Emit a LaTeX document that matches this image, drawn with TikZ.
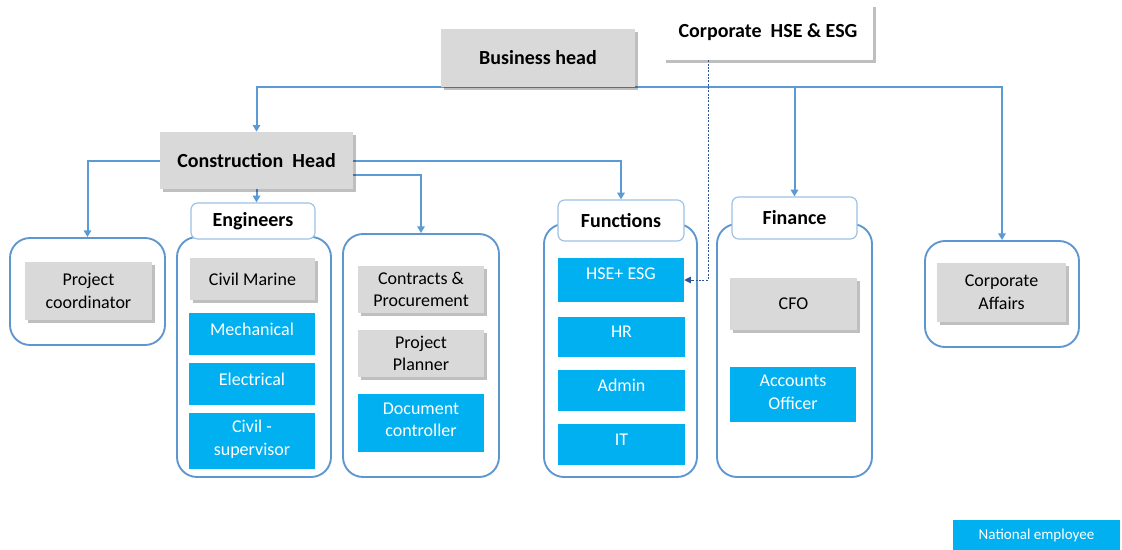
\documentclass[tikz,border=0pt]{standalone}
\usepackage{fontspec}
\setmainfont{Carlito}
\usetikzlibrary{shadows,arrows.meta,calc,backgrounds}
\definecolor{conn}{HTML}{5B9BD5}
\definecolor{contb}{HTML}{5E96D0}
\definecolor{labb}{HTML}{9DC3E6}
\definecolor{natblue}{HTML}{00B0F0}
\definecolor{gfill}{HTML}{D9D9D9}
\definecolor{dashc}{HTML}{2F5597}
\newcommand\mybold{\fontsize{15}{18}\selectfont\bfseries}
\newcommand\myreg{\fontsize{13.5}{17}\selectfont}
\newcommand\mysmall{\fontsize{11.3}{13}\selectfont}
\tikzset{
  rc/.style args={#1/#2/#3/#4}{at={({(#1+#3)/2},{(#2+#4)/2})},
    minimum width={(#3-#1)*0.75pt}, minimum height={(#4-#2)*0.75pt}},
  box/.style={inner sep=0pt, align=center, anchor=center},
  graybox/.style={box, fill=gfill, font=\myreg,
    drop shadow={shadow xshift=2pt, shadow yshift=-2pt, fill=black, opacity=0.25}},
  gbold/.style={graybox, font=\mybold},
  whitebold/.style={box, fill=white, font=\mybold,
    drop shadow={shadow xshift=2pt, shadow yshift=-2pt, fill=black, opacity=0.25}},
  bluebox/.style={box, fill=natblue, text=white, font=\myreg, text depth=7.5pt},
  cont/.style={box, draw=contb, line width=1.4pt, rounded corners=15pt, fill=white},
  lab/.style={box, draw=labb, line width=0.9pt, rounded corners=5pt, fill=white, font=\mybold},
  arr/.style={draw=conn, line width=1.5pt, -{Triangle[width=5.5pt,length=5pt]}},
  dashconn/.style={draw=dashc, line width=0.75pt, dash pattern=on 1.5pt off 1pt, -{Triangle[width=5pt,length=5pt]}}
}
\begin{document}
\begin{tikzpicture}[x=0.75pt,y=-0.75pt]
\useasboundingbox (0,0) rectangle (1122,550);

% top boxes
\node[gbold, rc=441/29/635/87] (bh) {Business head};
\node[whitebold, rc=663/4/873/60] (corp) {Corporate\ \ HSE \& ESG};
\node[gbold, rc=160/132/353/189] (ch) {Construction\ \ Head};

% project coordinator
\node[cont, rc=10/238/165/345] (pccont) {};
\node[graybox, rc=25/262/152/320] (pc) {Project\\coordinator};

% engineers
\node[cont, rc=177/237/331/477] (engcont) {};
\node[lab, rc=191/203/315/239] (englab) {Engineers};
\node[graybox, rc=190/258/315/300] (cm) {Civil Marine};
\node[bluebox, rc=189/313/315/355] (mech) {Mechanical};
\node[bluebox, rc=189/363/315/405] (elec) {Electrical};
\node[bluebox, rc=189/413/315/469, text depth=5pt] (cs) {Civil -\\supervisor};

% contracts
\node[cont, rc=343/234/499/477] (concont) {};
\node[graybox, rc=358/266/484/313] (cp) {Contracts \&\\Procurement};
\node[graybox, rc=358/330/484/377] (pp) {Project\\Planner};
\node[bluebox, rc=358/394/484/452, text depth=5pt] (dc) {Document\\controller};

% functions
\node[cont, rc=544/224/697/477] (funcont) {};
\node[lab, rc=558/200/684/241] (funlab) {Functions};
\node[bluebox, rc=558/258/684/302, text depth=10pt] (hse) {HSE+ ESG};
\node[bluebox, rc=558/317/685/357] (hr) {HR};
\node[bluebox, rc=558/370/685/411] (adm) {Admin};
\node[bluebox, rc=558/424/685/465] (it) {IT};

% finance
\node[cont, rc=717/224/872/477] (fincont) {};
\node[lab, rc=732/197/857/239] (finlab) {Finance};
\node[graybox, rc=730/278/857/330] (cfo) {CFO};
\node[bluebox, rc=730/367/856/422, text depth=3pt] (ao) {Accounts\\Officer};

% corporate affairs
\node[cont, rc=925/241/1079/347] (cacont) {};
\node[graybox, rc=937/263/1066/322] (ca) {Corporate\\Affairs};

% legend
\node[box, fill=natblue, text=white, font=\mysmall, rc=953/520/1120/550] (ne) {National employee};

% connectors
\begin{scope}[on background layer]
\fill[white] (0,0) rectangle (1122,550);
\draw[arr] (bh.south) -| (ch.north);
\draw[arr] (bh.south) -| (finlab.north);
\draw[arr] (bh.south) -| (cacont.north);
\draw[arr] (ch.west) -| (pccont.north);
\draw[arr] (ch.south) -- (ch.south |- englab.north);
\draw[arr] (ch.east) -| (funlab.north);
\draw[arr] ($(ch.east)+(0,14)$) -| (concont.north);
\end{scope}
\draw[dashconn] ($(corp.south)+(-60,0)$) |- (hse.east);
\end{tikzpicture}
\end{document}
